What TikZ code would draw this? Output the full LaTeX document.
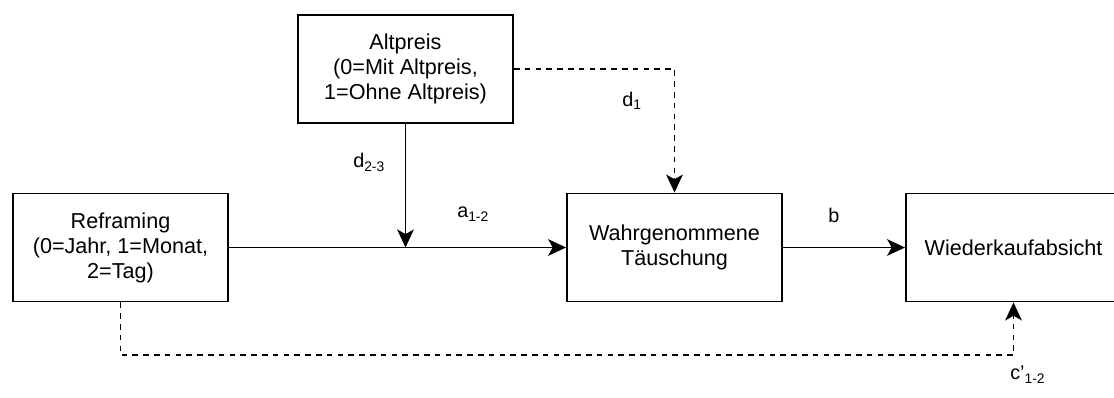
\documentclass[tikz,border=0pt]{standalone}
\usepackage{fontspec}
\setmainfont{Liberation Sans}
\usetikzlibrary{arrows.meta}
\begin{document}
\begin{tikzpicture}[x=0.75pt,y=-0.75pt,
  box/.style={draw, line width=1.4pt, minimum width=161.25pt, minimum height=81pt,
    inner sep=0pt, align=center, font=\fontsize{16.2}{18.8}\selectfont},
  conn/.style={line width=1.4pt, -{Stealth[length=13.5pt,width=12.5pt,inset=3.5pt]}},
  dconn/.style={conn, dash pattern=on 4.2pt off 3.9pt},
  lbl/.style={inner sep=0pt, anchor=base west, font=\fontsize{14.85}{17}\selectfont}]
  \clip (0,0) rectangle (1114,398);
  \fill[white] (0,0) rectangle (1114,398);

  % variables
  \node[box] (alt) at (405.5,69) {Altpreis\\(0=Mit Altpreis,\\1=Ohne Altpreis)};
  \node[box] (ref) at (120.5,247.5) {Reframing\\(0=Jahr, 1=Monat,\\2=Tag)};
  \node[box] (tau) at (674.5,247.5) {Wahrgenommene\\Täuschung};
  \node[box] (wka) at (1013.5,247.5) {Wiederkaufabsicht};

  % paths
  \coordinate (mod) at (alt.south |- ref.east);
  \draw[conn] (ref.east) -- (tau.west);
  \draw[conn] (alt.south) -- (mod);
  \draw[conn] (tau.east) -- (wka.west);
  \draw[dconn] (alt.east) -| (tau.north);
  \coordinate (low) at ([yshift=-53*0.75pt]ref.south);
  \draw[dconn] (ref.south) -- (low) -| (wka.south);

  % path labels
  \node[lbl] (ld1) at (622,107) {d\textsubscript{1}};
  \node[lbl] (ld23) at (353,168) {d\textsubscript{2-3}};
  \node[lbl] (la) at (457,218) {a\textsubscript{1-2}};
  \node[lbl] (lb) at (828,223) {b};
  \node[lbl] (lc) at (1010,380) {c'\textsubscript{1-2}};
\end{tikzpicture}
\end{document}
